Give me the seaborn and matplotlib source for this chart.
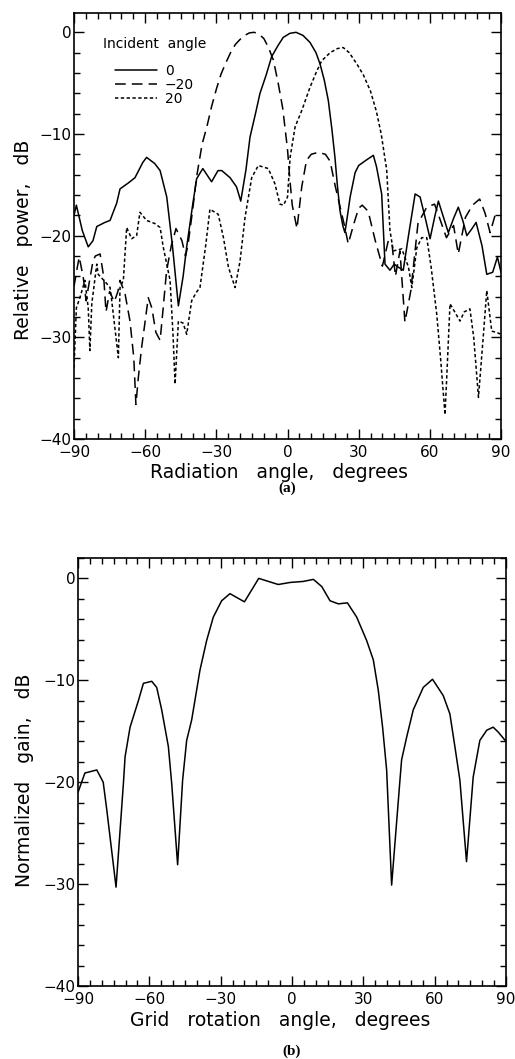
import numpy as np
import pandas as pd
import seaborn as sns
import matplotlib
matplotlib.use("Agg")
import matplotlib.pyplot as plt
from matplotlib.ticker import MultipleLocator

# ---------------- data: panel (a) ----------------
x_inc0 = [-90, -89, -86.5, -84, -82, -80.4, -77, -74.8, -72, -70.6, -67, -64.3, -61, -59.4, -56,
          -53.7, -50.9, -48.5, -46.0, -44, -42.5, -40, -38.3, -35.7, -34, -32.0, -29.3, -27.7, -24.2,
          -21.5, -19.7, -17.5, -15.8, -13.5, -11.6, -9, -6.7, -4, -1.8, 1, 3.6, 6.5, 9.5, 12, 13.7,
          15.5, 17.2, 18.7, 20.0, 21, 22.1, 23.3, 24.2, 25.3, 26.4, 28.5, 30, 33, 36.2, 37.5, 39.7,
          41.1, 43.2, 45, 46.7, 48.8, 51, 53.8, 55.9, 58, 60.1, 62, 63.6, 65.5, 67.8, 70, 72.0, 74,
          75.6, 77.5, 79.5, 82, 84.0, 86.5, 88.5, 90]
y_inc0 = [-18.0, -17.0, -19.5, -21.1, -20.5, -19.1, -18.7, -18.5, -16.8, -15.4, -14.8, -14.3, -12.8,
          -12.3, -12.9, -13.6, -16.2, -21.0, -26.9, -24.0, -21.1, -17.0, -14.4, -13.4, -14.0, -14.7,
          -13.6, -13.6, -14.3, -15.2, -16.6, -13.5, -10.3, -8.0, -6.0, -4.2, -2.4, -1.3, -0.5, -0.1,
          0.0, -0.3, -1.0, -2.0, -3.1, -4.7, -6.7, -9.5, -12.3, -15.0, -17.5, -19.0, -19.7, -18.0,
          -16.2, -13.8, -13.1, -12.6, -12.1, -13.2, -15.9, -22.8, -23.4, -22.8, -23.1, -23.4, -20.0,
          -15.9, -16.2, -18.2, -20.3, -18.2, -16.6, -18.0, -19.7, -18.3, -17.2, -18.6, -20.0, -19.4,
          -18.7, -21.0, -23.8, -23.6, -22.1, -23.6]

x_incm20 = [-90, -88.6, -87.8, -86.1, -84.9, -83.5, -82, -81, -79, -77.5, -76.5, -75, -73, -71.5,
            -70.6, -68.5, -66.4, -64.8, -63.9, -62.9, -61.5, -60, -58.7, -57.2, -55.5, -53.7, -52.4,
            -51, -49, -47, -44.5, -43, -42, -40, -38.3, -36, -34, -32, -30, -28, -26, -24, -22, -20,
            -18, -16, -14, -12, -10, -8, -6, -4, -2, 0, 1, 2, 4, 6, 8, 10, 13, 16, 18, 20, 22, 24,
            25.6, 28, 30, 31.5, 34, 37, 40, 42.5, 44, 45.5, 47.4, 49.5, 52, 55, 58.7, 62, 64, 67, 70,
            72, 75, 78, 81, 83.3, 85.4, 87.5, 90]
y_incm20 = [-25.0, -23.1, -22.1, -24.1, -26.4, -24.5, -22.5, -22.0, -21.8, -24.0, -27.5, -25.5,
            -26.5, -25.5, -24.4, -25.7, -28.4, -32.0, -36.6, -34.0, -31.0, -28.4, -26.1, -27.1,
            -29.5, -30.3, -27.1, -23.5, -21.0, -19.3, -20.5, -22.0, -21.0, -17.5, -14.2, -11.0,
            -9.3, -7.3, -5.6, -4.1, -3.0, -2.0, -1.2, -0.7, -0.3, -0.05, 0.0, -0.2, -0.6, -1.5,
            -2.7, -4.9, -7.5, -11.5, -14.5, -17.0, -19.3, -15.2, -12.6, -12.0, -11.8, -12.0, -12.7,
            -15.0, -17.0, -19.0, -20.8, -18.8, -17.3, -17.0, -17.6, -20.5, -23.0, -20.5, -20.7,
            -24.0, -21.5, -28.5, -25.4, -18.8, -17.2, -16.9, -18.2, -20.2, -19.0, -21.8, -18.2,
            -17.0, -16.4, -17.8, -19.7, -18.0, -18.2]

x_inc20 = [-90, -89, -87.5, -85.4, -84, -83.3, -82.5, -80.4, -79.8, -77, -74.8, -74.1, -71.3, -70.6,
           -69.2, -67.8, -65.7, -63.6, -62.2, -59.4, -56, -53.7, -52.4, -49.5, -48.2, -47.4, -46,
           -44, -42.5, -40.4, -38.5, -36.9, -34.5, -32.7, -29.2, -27.0, -24.9, -22.1, -20, -17.9,
           -15.1, -12.3, -8.1, -5.3, -3.2, -1.7, 0, 1.1, 3.2, 6.0, 9.5, 12, 14.4, 18, 21, 23.5, 26,
           29.2, 32, 35, 37.5, 39.5, 41.8, 43.2, 44.6, 48.2, 51, 52.4, 54.5, 56.6, 58.7, 60.5, 62.9,
           64.5, 66.4, 67.5, 68.5, 70.5, 72.7, 74.5, 76.9, 78.5, 80.5, 82.5, 84, 86.1, 88, 90]
y_inc20 = [-33.0, -27.1, -26.1, -24.4, -27.1, -31.3, -26.7, -22.8, -23.8, -24.5, -25.1, -26.4,
           -32.0, -25.1, -24.4, -19.2, -20.3, -20.0, -17.7, -18.5, -18.8, -19.2, -21.1, -24.4,
           -30.0, -34.6, -28.4, -28.6, -29.7, -26.4, -25.6, -25.1, -21.0, -17.4, -17.9, -20.2,
           -23.1, -25.1, -22.5, -18.2, -14.3, -13.1, -13.4, -14.9, -16.9, -17.0, -16.2, -12.3,
           -9.3, -7.7, -5.4, -4.0, -2.8, -2.0, -1.6, -1.5, -2.0, -3.1, -4.2, -5.8, -7.8, -10.0,
           -13.5, -19.5, -21.5, -21.3, -23.1, -25.1, -21.2, -20.2, -20.2, -23.0, -27.7, -32.0,
           -37.6, -32.0, -26.7, -27.5, -28.4, -27.5, -27.2, -30.0, -35.9, -30.0, -25.4, -29.4,
           -29.5, -29.7]

legend_labels = ["0", "\u221220", "20"]

# ---------------- data: panel (b) ----------------
x_rot = [-90, -87.1, -82.1, -79.4, -77.9, -74.0, -70.9, -70.2, -68.1, -64.6, -62.5, -59, -56.9,
         -54.8, -52.0, -50.6, -48.1, -46, -44.3, -42.2, -38.7, -35.9, -33.1, -29.6, -26.1, -20,
         -14, -5.8, -0.8, 4.7, 9.0, 12.5, 16, 19.5, 23.3, 27.2, 31.4, 34.2, 36.3, 38.1, 39.8, 41.9,
         45.4, 46.1, 48.2, 51, 55.2, 59.1, 63.6, 66.4, 68.5, 70.6, 73.4, 76.2, 79.0, 81.9, 84.6,
         86.8, 90]
y_gain = [-21.0, -19.1, -18.8, -20.0, -22.7, -30.3, -20.1, -17.5, -14.6, -12.0, -10.3, -10.1,
          -10.7, -12.9, -16.5, -20.1, -28.1, -19.8, -15.9, -13.9, -9.0, -6.1, -3.8, -2.2, -1.5,
          -2.3, 0.0, -0.6, -0.4, -0.3, -0.1, -0.8, -2.2, -2.5, -2.4, -3.8, -6.1, -8.0, -11.0,
          -14.6, -18.8, -30.1, -19.8, -17.8, -15.6, -12.9, -10.7, -9.9, -11.5, -13.3, -16.5,
          -19.8, -27.8, -19.5, -15.9, -14.9, -14.6, -15.1, -16.0]

# ---------------- styling ----------------
sns.set_theme(style="ticks")
plt.rcParams["font.family"] = ["DejaVu Sans"]
plt.rcParams["axes.linewidth"] = 1.2
for key in ("text.color", "axes.labelcolor", "xtick.color", "ytick.color", "axes.edgecolor"):
    plt.rcParams[key] = "black"

fig = plt.figure(figsize=(5.15, 10.59), dpi=100)
ax_a = fig.add_axes([74 / 515, 1 - 439 / 1059, 427 / 515, 426 / 1059])
ax_b = fig.add_axes([78 / 515, 1 - 986 / 1059, 428 / 515, 428 / 1059])

LW = 1.1
styles = ["-", (0, (7, 4)), (0, (2.2, 1.6))]
series = [(x_inc0, y_inc0), (x_incm20, y_incm20), (x_inc20, y_inc20)]
for (xs, ys), ls, lab in zip(series, styles, legend_labels):
    df = pd.DataFrame({"x": xs, "y": ys})
    sns.lineplot(data=df, x="x", y="y", ax=ax_a, color="black", linewidth=LW,
                 linestyle=ls, label=lab, estimator=None, sort=False)

dfb = pd.DataFrame({"x": x_rot, "y": y_gain})
sns.lineplot(data=dfb, x="x", y="y", ax=ax_b, color="black", linewidth=LW,
             estimator=None, sort=False, legend=False)

for ax, ylim_top in ((ax_a, 1.9), (ax_b, 2.0)):
    ax.set_xlim(-90, 90)
    ax.set_ylim(-40, ylim_top)
    ax.xaxis.set_major_locator(MultipleLocator(30))
    ax.xaxis.set_minor_locator(MultipleLocator(5))
    ax.yaxis.set_major_locator(MultipleLocator(10))
    ax.yaxis.set_minor_locator(MultipleLocator(2))
    ax.tick_params(which="both", direction="in", top=True, right=True,
                   labeltop=False, labelright=False, color="black", width=1.0,
                   labelcolor="black")
    ax.tick_params(which="major", length=7, labelsize=11)
    ax.tick_params(axis="x", which="major", pad=4)
    ax.tick_params(axis="y", which="major", pad=2)
    ax.tick_params(which="minor", length=4)
    for s in ax.spines.values():
        s.set_visible(True)
        s.set_color("black")
    ax.grid(False)

LAB = 13.5
ax_a.set_xlabel("Radiation   angle,   degrees", fontsize=LAB)
ax_a.set_ylabel("Relative   power,   dB", fontsize=LAB)
ax_b.set_xlabel("Grid   rotation   angle,   degrees", fontsize=LAB)
ax_b.set_ylabel("Normalized   gain,   dB", fontsize=LAB)
ax_a.xaxis.set_label_coords(0.48, -0.057)
ax_b.xaxis.set_label_coords(0.472, -0.059)
ax_a.yaxis.set_label_coords(-0.097, 0.467)
ax_b.yaxis.set_label_coords(-0.102, 0.481)

leg = ax_a.legend(title="Incident  angle", frameon=False, loc="upper left",
                  bbox_to_anchor=(0.045, 0.966), fontsize=10, title_fontsize=10,
                  handlelength=3.0, handletextpad=0.6, labelspacing=0.0,
                  borderpad=0.2)
leg._legend_box.sep = 9
for line in leg.get_lines():
    line.set_linewidth(LW)

fig.text(287 / 515, 1 - 488 / 1059, "(a)", ha="center", va="center",
         family="Liberation Serif", weight="bold", fontsize=11)
fig.text(292 / 515, 1 - 1051 / 1059, "(b)", ha="center", va="center",
         family="Liberation Serif", weight="bold", fontsize=11)

fig.savefig("out.png", dpi=100, facecolor="white")
